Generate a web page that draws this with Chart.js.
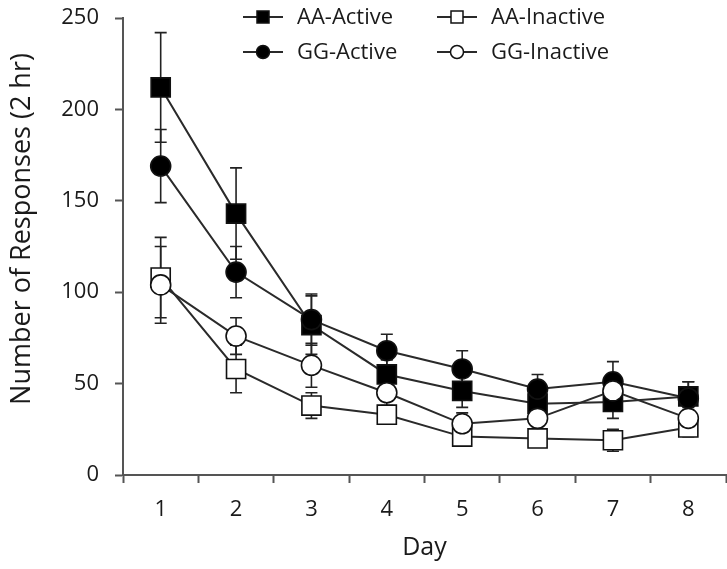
<!DOCTYPE html>
<html>
<head>
<meta charset="utf-8">
<script src="https://cdn.jsdelivr.net/npm/chart.js@4.4.0/dist/chart.umd.min.js"></script>
<style>
  html, body { margin: 0; padding: 0; background: #fff; }
  #wrap { width: 727px; height: 569px; }
</style>
</head>
<body>
<div id="wrap"><canvas id="respChart" width="727" height="569"></canvas></div>
<script>
var days = ['1', '2', '3', '4', '5', '6', '7', '8'];

var aaActive = [212, 143, 82, 55, 46, 39, 40, 43];
var aaActiveErr = [30, 25, 16, 8, 9, 9, 9, 8];
var ggActive = [169, 111, 85, 68, 58, 47, 51, 42];
var ggActiveErr = [20, 14, 14, 9, 10, 8, 11, 9];
var aaInactive = [108, 58, 38, 33, 21, 20, 19, 26];
var aaInactiveErr = [22, 13, 7, 5, 4, 4, 6, 5];
var ggInactive = [104, 76, 60, 45, 28, 31, 46, 31];
var ggInactiveErr = [21, 10, 12, 8, 6, 6, 8, 6];

var yTicks = [0, 50, 100, 150, 200, 250];
var yTitle = 'Number of Responses (2 hr)';

var FONT = '"Open Sans", Lato, sans-serif';
var INK = '#1a1a1a';

function makeSet(label, data, err, style, fill, order) {
    return {
        label: label,
        data: data,
        errors: err,
        order: order,  // lower order is drawn on top
        borderColor: '#2a2a2a',
        borderWidth: 2,
        pointStyle: style,
        pointRadius: style === 'rect' ? 13.5 : 10,
        pointBackgroundColor: fill,
        pointBorderColor: '#111',
        pointBorderWidth: 1.6,
        tension: 0,
        fill: false,
        clip: false
    };
}

// error bars, drawn under the markers
var errorBars = {
    id: 'errorBars',
    beforeDatasetsDraw: function(chart) {
        var ctx = chart.ctx;
        var y = chart.scales.y;
        ctx.save();
        ctx.strokeStyle = '#222';
        ctx.lineWidth = 1.6;
        chart.data.datasets.forEach(function(ds, di) {
            var meta = chart.getDatasetMeta(di);
            meta.data.forEach(function(pt, i) {
                var e = ds.errors[i];
                var top = y.getPixelForValue(ds.data[i] + e);
                var bot = y.getPixelForValue(ds.data[i] - e);
                ctx.beginPath();
                ctx.moveTo(pt.x, top); ctx.lineTo(pt.x, bot);
                ctx.moveTo(pt.x - 6, top); ctx.lineTo(pt.x + 6, top);
                ctx.moveTo(pt.x - 6, bot); ctx.lineTo(pt.x + 6, bot);
                ctx.stroke();
            });
        });
        ctx.restore();
    }
};

// two-column legend inside the plot + the y title
var boxLegend = {
    id: 'boxLegend',
    afterDraw: function(chart) {
        var ctx = chart.ctx;
        var cols = [243, 437];
        var rows = [17, 52];
        var order = [0, 2, 1, 3];
        ctx.save();
        ctx.font = '22px ' + FONT;
        ctx.textBaseline = 'middle';
        order.forEach(function(di, k) {
            var ds = chart.data.datasets[di];
            var x = cols[Math.floor(k / 2)];
            var yy = rows[k % 2];
            ctx.strokeStyle = '#2a2a2a';
            ctx.lineWidth = 2;
            ctx.beginPath();
            ctx.moveTo(x, yy); ctx.lineTo(x + 40, yy);
            ctx.stroke();
            ctx.fillStyle = ds.pointBackgroundColor;
            ctx.strokeStyle = '#111';
            ctx.lineWidth = 1.5;
            ctx.beginPath();
            if (ds.pointStyle === 'rect') {
                ctx.rect(x + 14, yy - 6, 12, 12);
            } else {
                ctx.arc(x + 20, yy, 6.5, 0, Math.PI * 2);
            }
            ctx.fill();
            ctx.stroke();
            ctx.fillStyle = INK;
            ctx.fillText(ds.label, x + 54, yy + 1);
        });

        ctx.translate(22, 229);
        ctx.rotate(-Math.PI / 2);
        ctx.textAlign = 'center';
        ctx.font = '27px ' + FONT;
        ctx.fillText(yTitle, 0, 0);
        ctx.restore();
    }
};

var ctx = document.getElementById('respChart').getContext('2d');
var chart = new Chart(ctx, {
    type: 'line',
    data: {
        labels: days,
        datasets: [
            makeSet('AA-Active', aaActive, aaActiveErr, 'rect', '#000', 2),
            makeSet('AA-Inactive', aaInactive, aaInactiveErr, 'rect', '#fff', 3),
            makeSet('GG-Active', ggActive, ggActiveErr, 'circle', '#000', 1),
            makeSet('GG-Inactive', ggInactive, ggInactiveErr, 'circle', '#fff', 0)
        ]
    },
    options: {
        responsive: false,
        animation: false,
        layout: { autoPadding: false, padding: { top: 18, right: 1, left: 0, bottom: 0 } },
        plugins: {
            legend: { display: false },
            tooltip: { enabled: false }
        },
        scales: {
            x: {
                type: 'category',
                offset: true,
                grid: {
                    offset: true,
                    drawOnChartArea: false,
                    drawTicks: true,
                    tickLength: 8,
                    tickWidth: 2,
                    tickColor: '#555'
                },
                border: { color: '#555', width: 2 },
                ticks: {
                    color: INK,
                    padding: 14,
                    font: { family: FONT, size: 22 }
                },
                title: {
                    display: true,
                    text: 'Day',
                    color: INK,
                    padding: { top: 0, bottom: 6 },
                    font: { family: FONT, size: 25 }
                },
                afterFit: function(s) {
                    s.height = 94;
                    s.paddingLeft = 0;
                    s.paddingRight = 0;
                }
            },
            y: {
                min: 0,
                max: 250,
                afterBuildTicks: function(s) {
                    s.ticks = yTicks.map(function(v) { return { value: v }; });
                },
                grid: {
                    drawOnChartArea: false,
                    drawTicks: true,
                    tickLength: 8,
                    tickWidth: 2,
                    tickColor: '#555'
                },
                border: { color: '#555', width: 2 },
                ticks: {
                    color: INK,
                    padding: 16,
                    font: { family: FONT, size: 22 }
                },
                afterFit: function(s) {
                    s.width = 123;
                    s.paddingTop = 0;
                    s.paddingBottom = 0;
                }
            }
        }
    },
    plugins: [errorBars, boxLegend]
});
</script>
</body>
</html>
